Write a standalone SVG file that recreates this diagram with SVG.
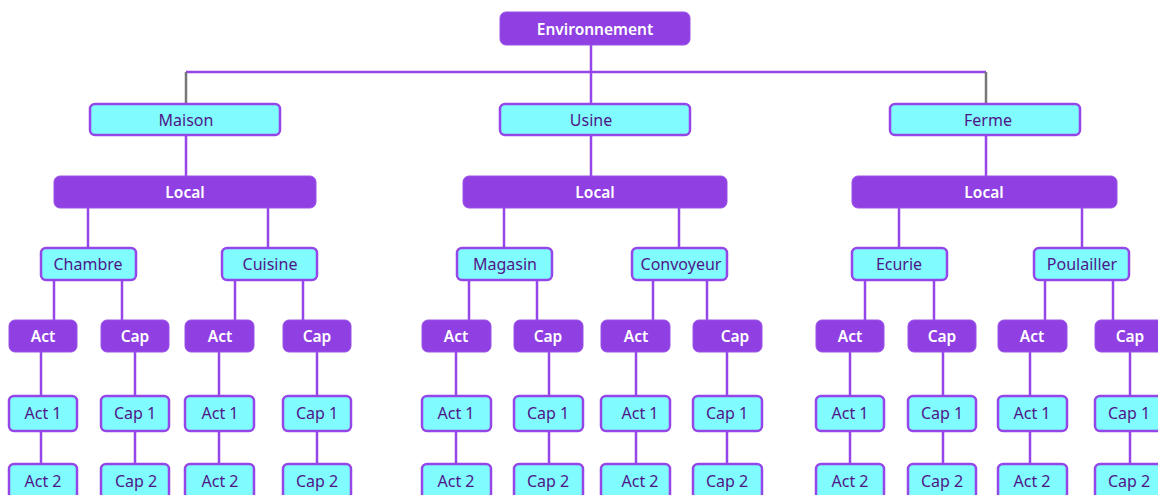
<svg xmlns="http://www.w3.org/2000/svg" width="1158" height="495" viewBox="0 0 1158 495">
  <style>
    .dark rect { fill: #8f3fe2; stroke: #9a52e8; stroke-width: 1; }
    .dark text { fill: #ffffff; font-weight: 600; font-size: 15.5px; }
    .light rect { fill: #80fcff; stroke: #9446e8; stroke-width: 2.5; }
    .light text { fill: #4f1688; }
    text { font-family: "Noto Sans", "DejaVu Sans", sans-serif; font-size: 16px; text-anchor: middle; }
    .links path { fill: none; stroke: #9446e8; stroke-width: 2.5; }
    .links path.grey { stroke: #777777; }
  </style>

  <!-- connectors -->
  <g id="connectors" class="links">
    <path d="M591 45V104M186 72H986"/>
    <path class="grey" d="M186 72V104M986 72V104"/>
    <path d="M186 135V176M591 135V176M986 135V176"/>
    <path d="M88 208V248M268 208V248M504 208V248M679 208V248M899 208V248M1082 208V248"/>
    <path d="M54 280V320M122 280V320M235 280V320M303 280V320M469 280V320M537 280V320M653 280V320M707 280V320M865 280V320M934 280V320M1045 280V320M1113 280V320"/>
    <path d="M41 352V464M135 352V464M219 352V464M317 352V464M456 352V464M549 352V464M636 352V464M727 352V464M850 352V464M943 352V464M1030 352V464M1130 352V464"/>
  </g>

  <!-- root -->
  <g id="environnement" class="dark"><rect x="500" y="12" width="190" height="33" rx="6"/><text x="595" y="35">Environnement</text></g>

  <!-- sites -->
  <g id="maison" class="light"><rect x="90" y="104" width="190" height="31" rx="5"/><text x="186" y="126">Maison</text></g>
  <g id="usine" class="light"><rect x="500" y="104" width="190" height="31" rx="5"/><text x="591" y="126">Usine</text></g>
  <g id="ferme" class="light"><rect x="890" y="104" width="190" height="31" rx="5"/><text x="988" y="126">Ferme</text></g>

  <!-- locals -->
  <g id="local-maison" class="dark"><rect x="54" y="176" width="262" height="32" rx="6"/><text x="185" y="198">Local</text></g>
  <g id="local-usine" class="dark"><rect x="463" y="176" width="264" height="32" rx="6"/><text x="595" y="198">Local</text></g>
  <g id="local-ferme" class="dark"><rect x="852" y="176" width="265" height="32" rx="6"/><text x="984" y="198">Local</text></g>

  <!-- rooms -->
  <g id="chambre" class="light"><rect x="41" y="248" width="95" height="32" rx="5"/><text x="88" y="270">Chambre</text></g>
  <g id="cuisine" class="light"><rect x="222" y="248" width="95" height="32" rx="5"/><text x="270" y="270">Cuisine</text></g>
  <g id="magasin" class="light"><rect x="457" y="248" width="95" height="32" rx="5"/><text x="505" y="270">Magasin</text></g>
  <g id="convoyeur" class="light"><rect x="632" y="248" width="95" height="32" rx="5"/><text x="681" y="270">Convoyeur</text></g>
  <g id="ecurie" class="light"><rect x="852" y="248" width="95" height="32" rx="5"/><text x="899" y="270">Ecurie</text></g>
  <g id="poulailler" class="light"><rect x="1034" y="248" width="95" height="32" rx="5"/><text x="1082" y="270">Poulailler</text></g>

  <!-- Act / Cap groups -->
  <g id="chambre-act" class="dark"><rect x="9" y="320" width="68" height="32" rx="6"/><text x="43" y="342">Act</text></g>
  <g id="chambre-cap" class="dark"><rect x="101" y="320" width="68" height="32" rx="6"/><text x="135" y="342">Cap</text></g>
  <g id="cuisine-act" class="dark"><rect x="185" y="320" width="69" height="32" rx="6"/><text x="220" y="342">Act</text></g>
  <g id="cuisine-cap" class="dark"><rect x="283" y="320" width="68" height="32" rx="6"/><text x="317" y="342">Cap</text></g>
  <g id="magasin-act" class="dark"><rect x="422" y="320" width="69" height="32" rx="6"/><text x="456" y="342">Act</text></g>
  <g id="magasin-cap" class="dark"><rect x="514" y="320" width="69" height="32" rx="6"/><text x="548" y="342">Cap</text></g>
  <g id="convoyeur-act" class="dark"><rect x="601" y="320" width="69" height="32" rx="6"/><text x="636" y="342">Act</text></g>
  <g id="convoyeur-cap" class="dark"><rect x="693" y="320" width="69" height="32" rx="6"/><text x="735" y="342">Cap</text></g>
  <g id="ecurie-act" class="dark"><rect x="816" y="320" width="68" height="32" rx="6"/><text x="850" y="342">Act</text></g>
  <g id="ecurie-cap" class="dark"><rect x="908" y="320" width="68" height="32" rx="6"/><text x="942" y="342">Cap</text></g>
  <g id="poulailler-act" class="dark"><rect x="998" y="320" width="69" height="32" rx="6"/><text x="1032" y="342">Act</text></g>
  <g id="poulailler-cap" class="dark"><rect x="1095" y="320" width="69" height="32" rx="6"/><text x="1130" y="342">Cap</text></g>

  <!-- first items -->
  <g id="chambre-act1" class="light"><rect x="9" y="396" width="68" height="35" rx="5"/><text x="43" y="419">Act 1</text></g>
  <g id="chambre-cap1" class="light"><rect x="101" y="396" width="68" height="35" rx="5"/><text x="135" y="419">Cap 1</text></g>
  <g id="cuisine-act1" class="light"><rect x="185" y="396" width="69" height="35" rx="5"/><text x="220" y="419">Act 1</text></g>
  <g id="cuisine-cap1" class="light"><rect x="283" y="396" width="68" height="35" rx="5"/><text x="317" y="419">Cap 1</text></g>
  <g id="magasin-act1" class="light"><rect x="422" y="396" width="69" height="35" rx="5"/><text x="456" y="419">Act 1</text></g>
  <g id="magasin-cap1" class="light"><rect x="514" y="396" width="69" height="35" rx="5"/><text x="548" y="419">Cap 1</text></g>
  <g id="convoyeur-act1" class="light"><rect x="601" y="396" width="69" height="35" rx="5"/><text x="640" y="419">Act 1</text></g>
  <g id="convoyeur-cap1" class="light"><rect x="693" y="396" width="69" height="35" rx="5"/><text x="727" y="419">Cap 1</text></g>
  <g id="ecurie-act1" class="light"><rect x="816" y="396" width="68" height="35" rx="5"/><text x="850" y="419">Act 1</text></g>
  <g id="ecurie-cap1" class="light"><rect x="908" y="396" width="68" height="35" rx="5"/><text x="942" y="419">Cap 1</text></g>
  <g id="poulailler-act1" class="light"><rect x="998" y="396" width="69" height="35" rx="5"/><text x="1032" y="419">Act 1</text></g>
  <g id="poulailler-cap1" class="light"><rect x="1095" y="396" width="69" height="35" rx="5"/><text x="1129" y="419">Cap 1</text></g>

  <!-- second items -->
  <g id="chambre-act2" class="light"><rect x="9" y="464" width="68" height="35" rx="5"/><text x="43" y="487">Act 2</text></g>
  <g id="chambre-cap2" class="light"><rect x="101" y="464" width="68" height="35" rx="5"/><text x="136" y="487">Cap 2</text></g>
  <g id="cuisine-act2" class="light"><rect x="185" y="464" width="69" height="35" rx="5"/><text x="220" y="487">Act 2</text></g>
  <g id="cuisine-cap2" class="light"><rect x="283" y="464" width="68" height="35" rx="5"/><text x="317" y="487">Cap 2</text></g>
  <g id="magasin-act2" class="light"><rect x="422" y="464" width="69" height="35" rx="5"/><text x="456" y="487">Act 2</text></g>
  <g id="magasin-cap2" class="light"><rect x="514" y="464" width="69" height="35" rx="5"/><text x="548" y="487">Cap 2</text></g>
  <g id="convoyeur-act2" class="light"><rect x="601" y="464" width="69" height="35" rx="5"/><text x="640" y="487">Act 2</text></g>
  <g id="convoyeur-cap2" class="light"><rect x="693" y="464" width="69" height="35" rx="5"/><text x="727" y="487">Cap 2</text></g>
  <g id="ecurie-act2" class="light"><rect x="816" y="464" width="68" height="35" rx="5"/><text x="850" y="487">Act 2</text></g>
  <g id="ecurie-cap2" class="light"><rect x="908" y="464" width="68" height="35" rx="5"/><text x="942" y="487">Cap 2</text></g>
  <g id="poulailler-act2" class="light"><rect x="998" y="464" width="69" height="35" rx="5"/><text x="1032" y="487">Act 2</text></g>
  <g id="poulailler-cap2" class="light"><rect x="1095" y="464" width="69" height="35" rx="5"/><text x="1129" y="487">Cap 2</text></g>
</svg>
